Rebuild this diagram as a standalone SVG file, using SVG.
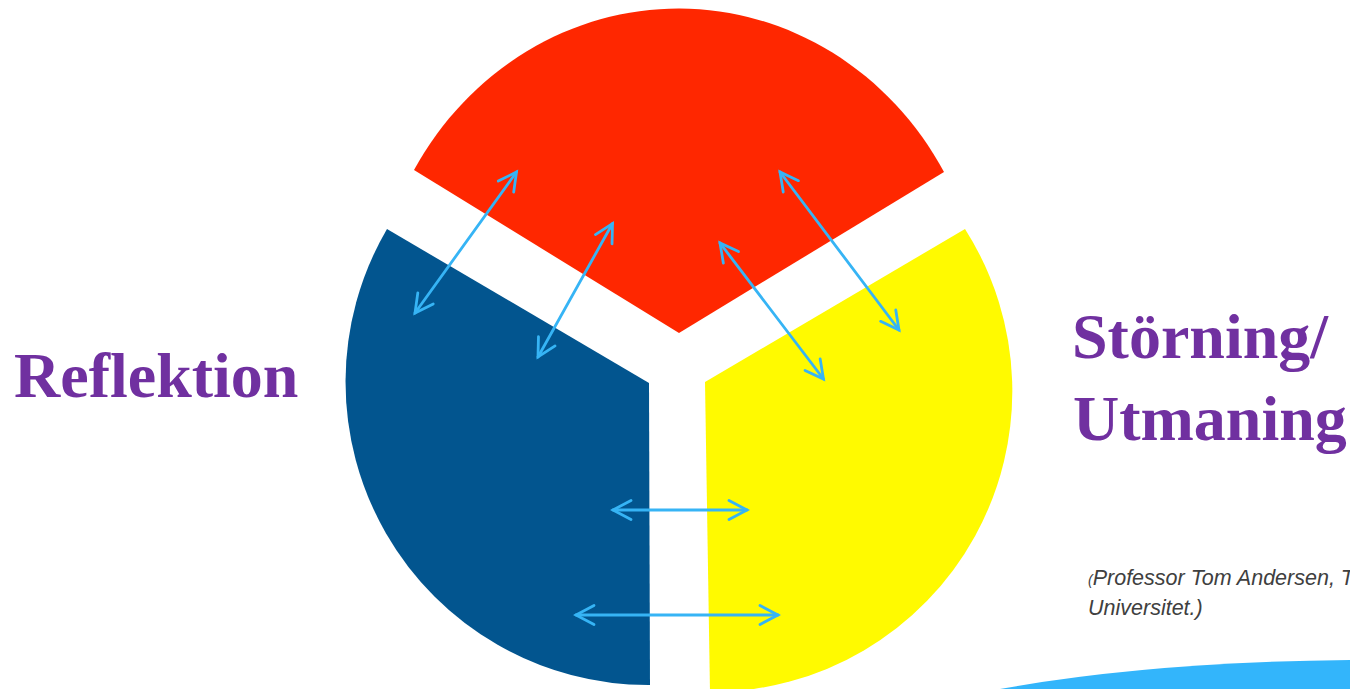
<svg xmlns="http://www.w3.org/2000/svg" width="1350" height="689" viewBox="0 0 1350 689">
  <style>
    .label { font-family: "Liberation Serif", "Times New Roman", serif; font-weight: bold; font-size: 64px; fill: #7030A0; }
    .cite { font-family: "Liberation Sans", Arial, sans-serif; font-style: italic; font-size: 21.5px; fill: #404040; }
    .conn { stroke: #36B4F5; stroke-width: 2.8; fill: none; stroke-linecap: round; marker-start: url(#head); marker-end: url(#head); }
  </style>
  <defs>
    <marker id="head" markerUnits="userSpaceOnUse" viewBox="-22 -12 24 24" markerWidth="24" markerHeight="24" refX="0" refY="0" orient="auto-start-reverse" overflow="visible">
      <path d="M-18,-9.5 L0,0 L-18,9.5" fill="none" stroke="#36B4F5" stroke-width="2.8" stroke-linecap="round" stroke-linejoin="miter"/>
    </marker>
  </defs>
  <rect width="1350" height="689" fill="#FFFFFF"/>

  <g id="sector-red">
    <path d="M679,333 L414,170 A306,325 0 0,1 944,172 Z" fill="#FF2700"/>
  </g>
  <g id="sector-blue">
    <path d="M649,383 L650,685 A303,303 0 0,1 387,229 Z" fill="#02558F"/>
  </g>
  <g id="sector-yellow">
    <path d="M705,382 L965,229 A301,301 0 0,1 710,692 Z" fill="#FFFA00"/>
  </g>

  <g id="swoosh">
    <path d="M1000,689 Q1150,662 1350,660 L1350,689 Z" fill="#33B5FB"/>
  </g>

  <g id="connectors">
    <line class="conn" x1="415" y1="313" x2="516.5" y2="172"/>
    <line class="conn" x1="538" y1="357" x2="612.5" y2="223.5"/>
    <line class="conn" x1="720" y1="243" x2="823.5" y2="379"/>
    <line class="conn" x1="780" y1="172" x2="899" y2="330"/>
    <line class="conn" x1="613" y1="510" x2="747" y2="510"/>
    <line class="conn" x1="576" y1="615" x2="778" y2="615"/>
  </g>

  <g id="label-reflektion">
    <text class="label" x="14" y="397">Reflektion</text>
  </g>
  <g id="label-storning">
    <text class="label" x="1072" y="358">Störning/</text>
    <text class="label" x="1073" y="440">Utmaning</text>
  </g>
  <g id="citation">
    <text class="cite" x="1088" y="585"><tspan font-size="14">(</tspan>Professor Tom Andersen, T</text>
    <text class="cite" x="1088" y="615">Universitet.)</text>
  </g>
</svg>
